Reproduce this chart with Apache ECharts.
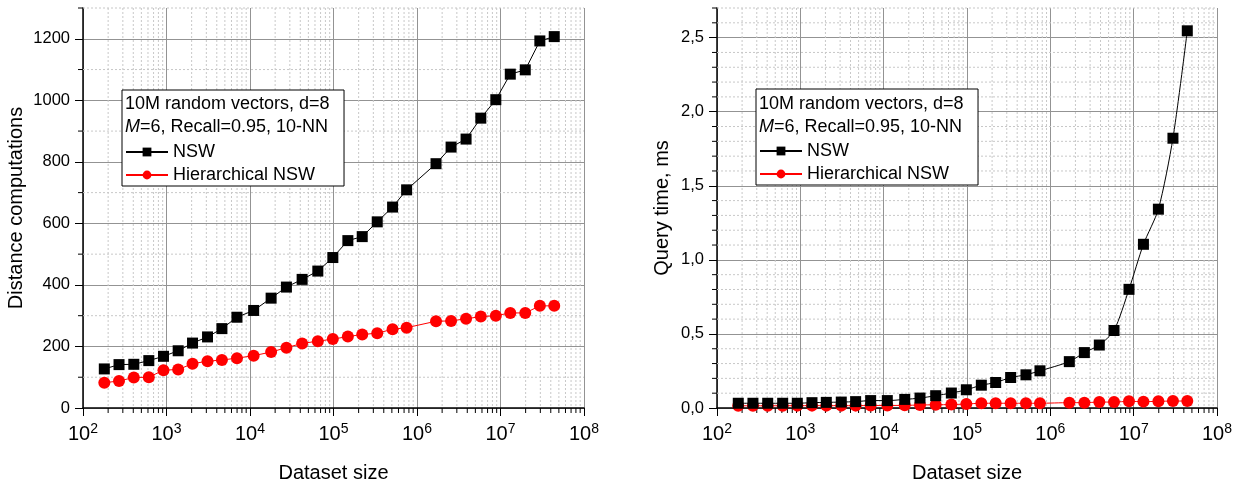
<!DOCTYPE html>
<html><head><meta charset="utf-8">
<script src="https://cdn.jsdelivr.net/npm/echarts@6/dist/echarts.min.js"></script>
<style>html,body{margin:0;padding:0;background:#fff}#c{width:1251px;height:488px}</style>
</head><body><div id="c"></div>
<script>
// ---- data ----
const sizes = [180, 270, 406, 614, 920, 1380, 2050, 3100, 4610, 6980, 11060, 17900, 27300, 42100, 64900,
  98200, 148600, 220800, 334000, 510000, 751000, 1690000, 2560000, 3870000, 5810000, 8790000,
  13100000, 19800000, 29600000, 44000000];
const nswDist = [127, 141, 142, 154, 168, 186, 211, 231, 258, 295, 317, 357, 393, 418, 445, 489, 544, 557,
  605, 653, 709, 794, 848, 874, 942, 1002, 1085, 1099, 1193, 1207];
const hnswDist = [82, 88, 99, 100, 123, 125, 144, 152, 156, 162, 170, 182, 196, 210, 217, 224, 232, 239,
  243, 256, 261, 282, 283, 290, 297, 300, 309, 309, 332, 332];
const nswTime = [0.032, 0.032, 0.032, 0.032, 0.032, 0.036, 0.038, 0.040, 0.043, 0.050, 0.050, 0.058, 0.067,
  0.083, 0.101, 0.123, 0.154, 0.172, 0.206, 0.224, 0.251, 0.313, 0.374, 0.425, 0.523, 0.801, 1.105,
  1.342, 1.821, 2.546];
const hnswTime = [0.015, 0.015, 0.015, 0.015, 0.016, 0.016, 0.016, 0.016, 0.016, 0.017, 0.017, 0.018, 0.020,
  0.022, 0.023, 0.027, 0.032, 0.032, 0.032, 0.032, 0.032, 0.036, 0.036, 0.040, 0.040, 0.045, 0.043,
  0.045, 0.047, 0.047];
const xDecades = [2, 3, 4, 5, 6, 7, 8];          // x tick exponents (10^2 .. 10^8)
const minorMult = [2, 3, 4, 5, 6, 7, 8, 9];        // log minor ticks within a decade
const distAxis = { min: 0, max: 1300, major: 200, minor: 100 };
const timeAxis = { min: 0, max: 2.7, major: 0.5, minor: 0.1 };
const legendHead1 = '10M random vectors, d=8';
const legendHead2 = '{i|M}=6, Recall=0.95, 10-NN';
const seriesNames = ['NSW', 'Hierarchical NSW'];

// ---- derived tick lists ----
const xMinor = [];
xDecades.slice(0, -1).forEach(e => minorMult.forEach(k => xMinor.push(k * Math.pow(10, e))));
function yMinorList(a) {
  const out = [];
  const n = Math.round((a.max - a.min) / a.minor);
  for (let i = 1; i <= n; i++) {
    const v = +(a.min + i * a.minor).toFixed(6);
    const r = v / a.major;
    if (Math.abs(r - Math.round(r)) > 1e-6) out.push(v);
  }
  return out;
}
const distMinor = yMinorList(distAxis);
const timeMinor = yMinorList(timeAxis);

const FONT = '"Liberation Sans", Arial, sans-serif';
const MINOR_GRID = '#c8c8c8';
const MAJOR_GRID = '#939393';

function xMinorItem(params, api) {
  const cs = params.coordSys;
  const x = api.coord([api.value(0), api.value(1)])[0];
  const yb = cs.y + cs.height;
  return { type: 'group', silent: true, children: [
    { type: 'line', shape: { x1: x, y1: cs.y, x2: x, y2: yb }, style: { stroke: MINOR_GRID, lineWidth: 1, lineDash: [2, 2] } },
    { type: 'line', shape: { x1: x, y1: yb, x2: x, y2: yb + 5 }, style: { stroke: '#000', lineWidth: 1 } }
  ]};
}
function yMinorItem(params, api) {
  const cs = params.coordSys;
  const y = api.coord([api.value(0), api.value(1)])[1];
  return { type: 'group', silent: true, children: [
    { type: 'line', shape: { x1: cs.x, y1: y, x2: cs.x + cs.width, y2: y }, style: { stroke: MINOR_GRID, lineWidth: 1, lineDash: [2, 2] } },
    { type: 'line', shape: { x1: cs.x - 5, y1: y, x2: cs.x, y2: y }, style: { stroke: '#000', lineWidth: 1 } }
  ]};
}

function xAxisDef(gi) {
  return {
    type: 'log', gridIndex: gi, logBase: 10, min: 100, max: 1e8, splitNumber: 6,
    name: 'Dataset size', nameLocation: 'middle', nameGap: 55,
    nameTextStyle: { fontSize: 20, color: '#000', fontFamily: FONT },
    axisLine: { show: true, onZero: false, lineStyle: { color: '#000', width: 1.5 } },
    axisTick: { show: true, inside: false, length: 8, lineStyle: { color: '#000', width: 1 } },
    axisLabel: {
      margin: 14, color: '#000', fontFamily: FONT, fontSize: 20,
      formatter: v => '{b|10}{s|' + Math.round(Math.log10(v)) + '}',
      rich: {
        b: { fontSize: 20, lineHeight: 24, fontFamily: FONT, color: '#000' },
        s: { fontSize: 14, lineHeight: 24, verticalAlign: 'top', fontFamily: FONT, color: '#000' }
      }
    },
    splitLine: { show: true, lineStyle: { color: MAJOR_GRID, width: 1 } },
    minorTick: { show: false }, minorSplitLine: { show: false }
  };
}
function yAxisDef(gi, a, name, gap, fmt) {
  return {
    type: 'value', gridIndex: gi, min: a.min, max: a.max, interval: a.major,
    name: name, nameLocation: 'middle', nameGap: gap,
    nameTextStyle: { fontSize: 20, color: '#000', fontFamily: FONT },
    axisLine: { show: true, onZero: false, lineStyle: { color: '#000', width: 1.5 } },
    axisTick: { show: true, inside: false, length: 8, lineStyle: { color: '#000', width: 1 } },
    axisLabel: { margin: 13, color: '#000', fontFamily: FONT, fontSize: 16.5, showMaxLabel: false, formatter: fmt },
    splitLine: { show: true, showMaxLine: false, lineStyle: { color: MAJOR_GRID, width: 1 } }
  };
}
function lineSeries(name, gi, ys, isNsw, smooth) {
  return {
    name: name, type: 'line', xAxisIndex: gi, yAxisIndex: gi,
    data: sizes.map((s, i) => [s, ys[i]]),
    symbol: isNsw ? 'rect' : 'circle', symbolSize: isNsw ? 11 : 12,
    smooth: smooth,
    itemStyle: { color: isNsw ? '#000' : '#ff0000' },
    lineStyle: { color: isNsw ? '#000' : '#ff0000', width: 1 },
    z: isNsw ? 4 : 3, clip: false, animation: false
  };
}
function legendDef(gi, left, top) {
  return {
    show: true, data: seriesNames, orient: 'vertical', left: left, top: top,
    padding: [53, 29, 2, 3], itemWidth: 42, itemHeight: 11, itemGap: 5,
    backgroundColor: '#fff', borderColor: '#000', borderWidth: 1, borderRadius: 0,
    textStyle: { fontSize: 18, color: '#000', fontFamily: FONT },
    selectedMode: false, z: 10
  };
}
function headText(x, y, txt) {
  return {
    type: 'text', x: x, y: y, z: 100,
    style: { text: txt, fontSize: 18, fontFamily: FONT, fill: '#000', verticalAlign: 'middle', align: 'left',
      rich: { i: { fontStyle: 'italic', fontSize: 18, fontFamily: FONT, fill: '#000' } } }
  };
}

const chart = echarts.init(document.getElementById('c'), null, { renderer: 'canvas' });
chart.setOption({
  animation: false,
  backgroundColor: '#fff',
  grid: [
    { left: 83, top: 8, width: 501, height: 403 },
    { left: 717, top: 8, width: 500, height: 403 }
  ],
  xAxis: [xAxisDef(0), xAxisDef(1)],
  yAxis: [
    yAxisDef(0, distAxis, 'Distance computations', 57, v => String(v)),
    yAxisDef(1, timeAxis, 'Query time, ms', 45, v => v.toFixed(1).replace('.', ','))
  ],
  legend: [legendDef(0, 122, 90), legendDef(1, 756, 89)],
  graphic: [
    headText(125, 104, legendHead1), headText(125, 127, legendHead2),
    headText(759, 104, legendHead1), headText(759, 127, legendHead2)
  ],
  series: [
    { type: 'custom', name: 'xminorL', xAxisIndex: 0, yAxisIndex: 0, renderItem: xMinorItem, data: xMinor.map(v => [v, 0]), z: 1, silent: true },
    { type: 'custom', name: 'yminorL', xAxisIndex: 0, yAxisIndex: 0, renderItem: yMinorItem, data: distMinor.map(v => [1000, v]), z: 1, silent: true },
    { type: 'custom', name: 'xminorR', xAxisIndex: 1, yAxisIndex: 1, renderItem: xMinorItem, data: xMinor.map(v => [v, 0]), z: 1, silent: true },
    { type: 'custom', name: 'yminorR', xAxisIndex: 1, yAxisIndex: 1, renderItem: yMinorItem, data: timeMinor.map(v => [1000, v]), z: 1, silent: true },
    lineSeries('NSW', 0, nswDist, true, false),
    lineSeries('Hierarchical NSW', 0, hnswDist, false, false),
    lineSeries('NSW', 1, nswTime, true, 0.25),
    lineSeries('Hierarchical NSW', 1, hnswTime, false, 0.25)
  ]
});
</script>
</body></html>
